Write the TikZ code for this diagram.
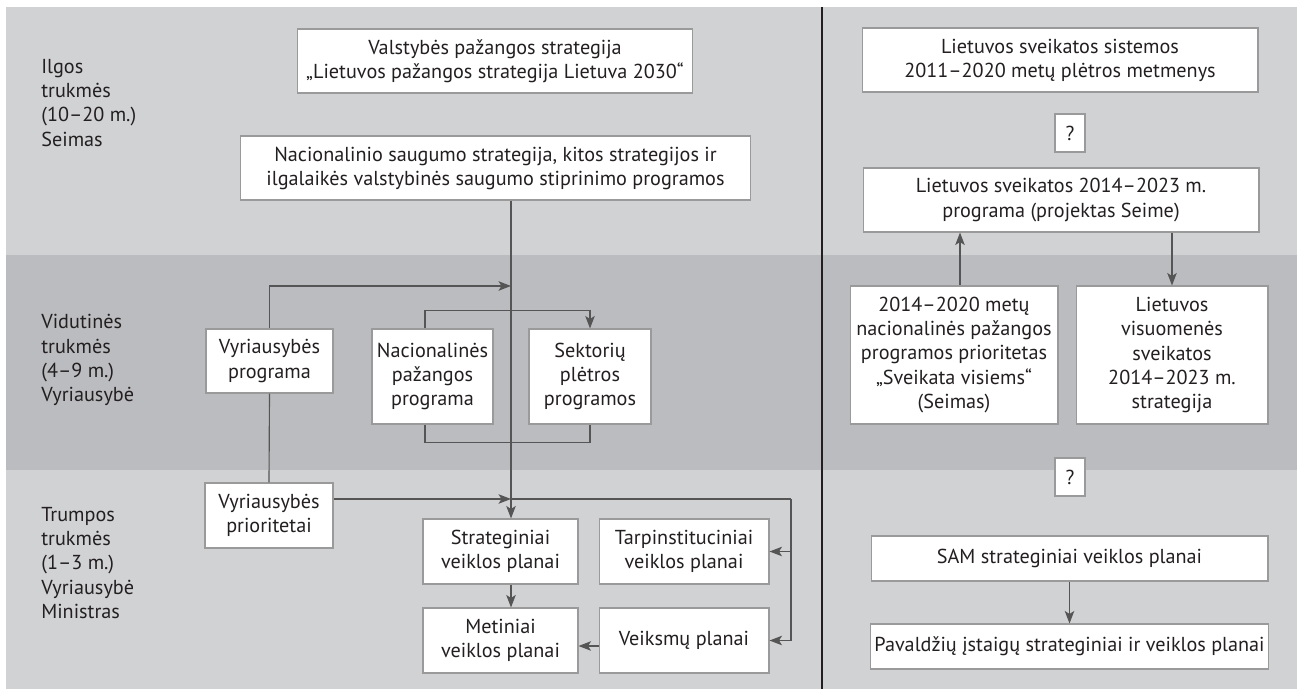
\documentclass[tikz,border=0pt]{standalone}
\usepackage{fontspec}
\setmainfont{PT Sans}
\usetikzlibrary{arrows.meta, calc}

\definecolor{bandlight}{HTML}{D1D2D4}
\definecolor{banddark}{HTML}{BBBCBF}
\definecolor{boxline}{HTML}{9A9A9A}
\definecolor{conline}{HTML}{555555}
\definecolor{inktext}{HTML}{231F20}

\begin{document}
\begin{tikzpicture}[
    x=0.02cm, y=-0.02cm,
    every node/.style={font=\fontsize{11.5}{13.7}\selectfont, text=inktext, align=center},
    box/.style={rectangle, draw=boxline, line width=0.6pt, fill=white, inner sep=2pt},
    qbox/.style={box, minimum width=0.60cm, minimum height=0.76cm},
    arr/.style={-{Stealth[length=2.5mm, width=1.9mm, inset=0.6mm]}, line width=0.65pt, draw=conline},
    conn/.style={line width=0.65pt, draw=conline},
    lbl/.style={anchor=west, align=left, inner sep=0pt}
  ]
    \useasboundingbox (0,0) rectangle (1297,689);

    % bands
    \fill[bandlight] (6,7) rectangle (1297,255);
    \fill[banddark] (6,255) rectangle (1297,470);
    \fill[bandlight] (6,470) rectangle (1297,689);
    \draw[inktext, line width=0.7pt] (822,7) -- (822,689);

    % left labels
    \node[lbl] (lblong) at (41,103) {Ilgos\\trukmės\\(10–20 m.)\\Seimas};
    \node[lbl] (lblmid) at (41,360) {Vidutinės\\trukmės\\(4–9 m.)\\Vyriausybė};
    \node[lbl] (lblshort) at (41,563) {Trumpos\\trukmės\\(1–3 m.)\\Vyriausybė\\Ministras};

    % left part
    \node[box, minimum width=7.92cm, minimum height=1.28cm] (strat) at (495,61)
      {Valstybės pažangos strategija\\„Lietuvos pažangos strategija Lietuva 2030“};
    \node[box, minimum width=10.22cm, minimum height=1.28cm] (nsaug) at (495.5,168)
      {Nacionalinio saugumo strategija, kitos strategijos ir\\ilgalaikės valstybinės saugumo stiprinimo programos};

    \node[box, minimum width=2.54cm, minimum height=1.28cm] (vprog) at (269.5,361)
      {Vyriausybės\\programa};
    \node[box, minimum width=2.42cm, minimum height=1.90cm] (npp) at (432.5,376.5)
      {Nacionalinės\\pažangos\\programa};
    \node[box, minimum width=2.44cm, minimum height=1.90cm] (spp) at (590,376.5)
      {Sektorių\\plėtros\\programos};

    \node[box, minimum width=2.56cm, minimum height=1.30cm] (vprior) at (269,515.5)
      {Vyriausybės\\prioritetai};
    \node[box, minimum width=3.10cm, minimum height=1.30cm] (splan) at (500.5,551.5)
      {Strateginiai\\veiklos planai};
    \node[box, minimum width=3.40cm, minimum height=1.30cm] (tplan) at (684,551.5)
      {Tarpinstituciniai\\veiklos planai};
    \node[box, minimum width=3.10cm, minimum height=1.30cm] (mplan) at (500.5,640.5)
      {Metiniai\\veiklos planai};
    \node[box, minimum width=3.40cm, minimum height=1.30cm] (vplan) at (684,640.5)
      {Veiksmų planai};

    \coordinate (jtop) at (511,286);
    \coordinate (jmain) at (511,499);
    \coordinate (jright) at (791,499);

    \draw[arr] (nsaug.south -| jmain) -- (splan.north -| jmain);
    \draw[arr] (vprog.north) |- (jtop);
    \draw[arr] ([xshift=-0.15cm]npp.north) -- ++(0,-18) -| (spp.north);
    \draw[conn] ([xshift=-0.15cm]npp.south) -- ++(0,18) -| (spp.south);
    \draw[conn] (vprog.south) -- (vprior.north);
    \draw[arr] (vprior.east |- jmain) -- (jmain);
    \draw[conn] (jmain) -- (jright);
    \draw[arr] (jright) |- (tplan.east);
    \draw[arr] (jright) |- (vplan.east);
    \draw[arr] (splan.south -| jmain) -- (mplan.north -| jmain);
    \draw[arr] ([yshift=-0.11cm]vplan.west) -- ([yshift=-0.11cm]mplan.east);

    % right part
    \node[box, minimum width=7.92cm, minimum height=1.28cm] (sistema) at (1060,60)
      {Lietuvos sveikatos sistemos\\2011–2020 metų plėtros metmenys};
    \node[qbox] (qup) at (1070,133) {?};
    \node[box, minimum width=7.92cm, minimum height=1.28cm] (sprog) at (1061,200)
      {Lietuvos sveikatos 2014–2023 m.\\programa (projektas Seime)};
    \node[box, minimum width=4.16cm, minimum height=2.76cm] (prior) at (954,355)
      {2014–2020 metų\\nacionalinės pažangos\\programos prioritetas\\„Sveikata visiems“\\(Seimas)};
    \node[box, minimum width=3.84cm, minimum height=2.76cm] (vsstrat) at (1172,355)
      {Lietuvos\\visuomenės\\sveikatos\\2014–2023 m.\\strategija};
    \node[qbox] (qdown) at (1070,477) {?};
    \node[box, minimum width=7.94cm, minimum height=0.90cm] (sam) at (1069.5,558.5)
      {SAM strateginiai veiklos planai};
    \node[box, minimum width=7.94cm, minimum height=0.90cm] (pav) at (1069.5,646.5)
      {Pavaldžių įstaigų strateginiai ir veiklos planai};

    \draw[arr] ([xshift=0.12cm]prior.north) -- ([xshift=0.12cm]prior.north |- sprog.south);
    \draw[arr] (vsstrat.north |- sprog.south) -- (vsstrat.north);
    \draw[arr] (sam.south) -- (pav.north);

  \end{tikzpicture}
\end{document}
